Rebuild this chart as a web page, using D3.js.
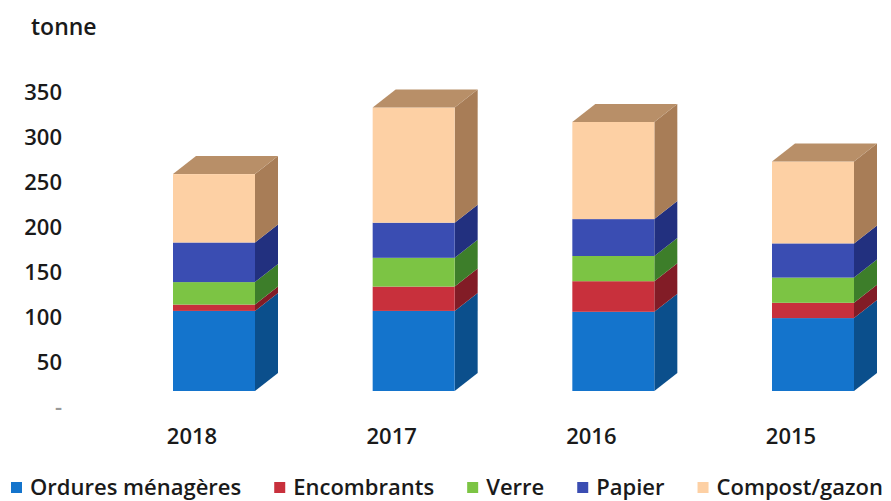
<!DOCTYPE html>
<html>
<head>
<meta charset="utf-8">
<script src="https://cdn.jsdelivr.net/npm/d3@7"></script>
<style>
  body { margin: 0; background: #fff; }
  text { font-family: "Open Sans", sans-serif; fill: #1a1a1a; }
</style>
</head>
<body>
<svg id="chart" width="891" height="501"></svg>
<script>
// data (tonnes)
var years = ["2018", "2017", "2016", "2015"];
var series = ["Ordures ménagères", "Encombrants", "Verre", "Papier", "Compost/gazon"];
var ordures = [89, 89, 88, 81];
var encombrants = [7, 27, 34, 17];
var verre = [25, 32, 28, 28];
var papier = [44, 39, 41, 38];
var compost = [76, 128, 108, 91];
var tickValues = [0, 50, 100, 150, 200, 250, 300, 350];

var frontColors = ["#1474cc", "#c8303c", "#7cc444", "#3a4db2", "#fdd0a4"];
var sideColors  = ["#0b4f8c", "#821c26", "#3d7e2a", "#22307f", "#a87d57"];
var topColor = "#b88f68";

var svg = d3.select("#chart");

var depthX = 23, depthY = -18, barW = 82;

var y = d3.scaleLinear()
  .domain([0, 350])
  .range([391, 76]);

var x = d3.scalePoint()
  .domain(years)
  .range([214, 813]);

var table = years.map(function(yr, i) {
  return { year: yr, vals: [ordures[i], encombrants[i], verre[i], papier[i], compost[i]] };
});

// axis labels (sit a bit lower than the bar fronts, 3D offset)
svg.append("g").selectAll("text")
  .data(tickValues)
  .enter().append("text")
  .attr("x", 62)
  .attr("y", function(d) { return y(d) + 16; })
  .attr("dy", "0.35em")
  .attr("text-anchor", "end")
  .style("font-size", "22px")
  .style("font-weight", 600)
  .style("fill", function(d) { return d === 0 ? "#999" : "#1a1a1a"; })
  .text(function(d) { return d === 0 ? "-" : d; });

svg.append("text")
  .attr("x", 31)
  .attr("y", 35)
  .style("font-size", "23px")
  .style("font-weight", 600)
  .text("tonne");

// bars
var bars = svg.append("g").selectAll("g")
  .data(table)
  .enter().append("g");

bars.each(function(d) {
  var g = d3.select(this);
  var cx = x(d.year), x0 = cx - barW / 2, x1 = cx + barW / 2;
  var cum = 0;
  d.vals.forEach(function(v, k) {
    var yb = y(cum), yt = y(cum + v);
    cum += v;
    // right side face
    g.append("path")
      .attr("d", "M" + x1 + "," + yb + "L" + (x1 + depthX) + "," + (yb + depthY) +
        "L" + (x1 + depthX) + "," + (yt + depthY) + "L" + x1 + "," + yt + "Z")
      .attr("fill", sideColors[k]);
    // front face
    g.append("rect")
      .attr("x", x0).attr("y", yt)
      .attr("width", barW).attr("height", yb - yt)
      .attr("fill", frontColors[k]);
  });
  var yt = y(cum);
  g.append("path")
    .attr("d", "M" + x0 + "," + yt + "L" + (x0 + depthX) + "," + (yt + depthY) +
      "L" + (x1 + depthX) + "," + (yt + depthY) + "L" + x1 + "," + yt + "Z")
    .attr("fill", topColor);
});

// category labels
svg.append("g").selectAll("text")
  .data(years)
  .enter().append("text")
  .attr("x", function(d) { return x(d) - 22; })
  .attr("y", 436)
  .attr("dy", "0.35em")
  .attr("text-anchor", "middle")
  .style("font-size", "22px")
  .style("font-weight", 600)
  .text(function(d) { return d; });

// legend
var lx = 11;
var legend = svg.append("g");
series.forEach(function(s, k) {
  legend.append("rect")
    .attr("x", lx).attr("y", 482)
    .attr("width", 11).attr("height", 11)
    .attr("fill", frontColors[k]);
  var t = legend.append("text")
    .attr("x", lx + 19)
    .attr("y", 487)
    .attr("dy", "0.35em")
    .style("font-size", "22px")
    .style("font-weight", 600)
    .text(s);
  lx += 19 + t.node().getComputedTextLength() + 33;
});
</script>
</body>
</html>
